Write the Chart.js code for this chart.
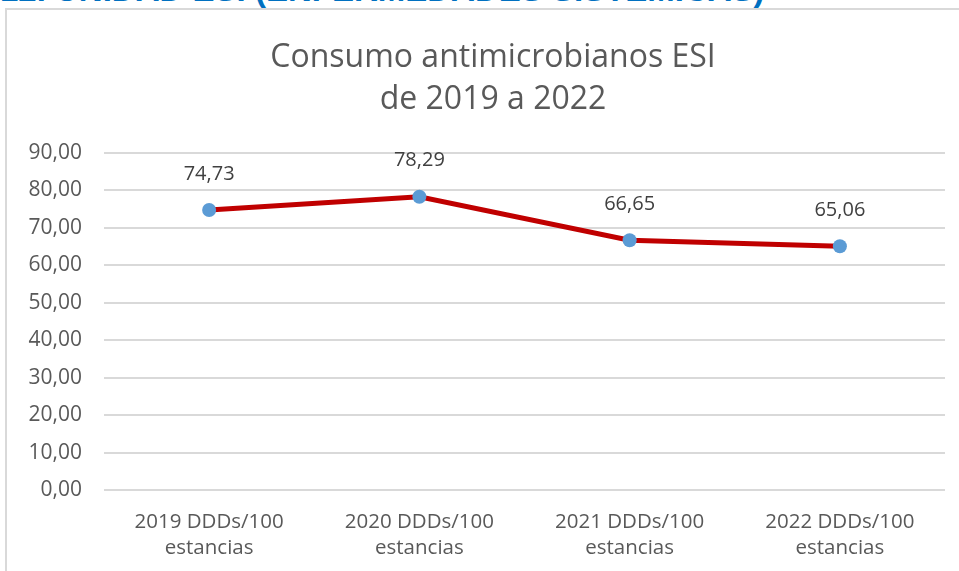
<!DOCTYPE html>
<html>
<head>
<meta charset="utf-8">
<script src="https://cdn.jsdelivr.net/npm/chart.js@4.4.0/dist/chart.umd.min.js"></script>
<style>
  body { margin: 0; background: #ffffff; overflow: hidden; width: 959px; height: 571px; position: relative; }
  #heading {
    position: absolute; left: 0px; top: -29px;
    font-family: "Liberation Sans", Arial, sans-serif; font-weight: bold;
    font-size: 33px; line-height: 38px; color: #0070C0; white-space: nowrap;
  }
  #box {
    position: absolute; left: 5px; top: 8px; width: 980px; height: 570px;
    border-left: 2px solid #d9d9d9; border-top: 2px solid #d9d9d9;
  }
  #wrap { position: absolute; left: 0; top: 0; width: 972px; height: 561px; }
</style>
</head>
<body>
<div id="heading">12. UNIDAD ESI (ENFERMEDADES SISTÉMICAS)</div>
<div id="box">
  <div id="wrap"><canvas id="esiChart"></canvas></div>
</div>
<script>
// chart data
const categories = [
    ['2019 DDDs/100', 'estancias'],
    ['2020 DDDs/100', 'estancias'],
    ['2021 DDDs/100', 'estancias'],
    ['2022 DDDs/100', 'estancias']
];
const consumo = [74.73, 78.29, 66.65, 65.06];
const yTicks = [0, 10, 20, 30, 40, 50, 60, 70, 80, 90];

const fontFamily = '"Open Sans", "Noto Sans", sans-serif';

function formatComma(v) {
    return v.toFixed(2).replace('.', ',');
}

// Draws the value above each point
const valueLabels = {
    id: 'valueLabels',
    afterDatasetsDraw(chart) {
        const ctx = chart.ctx;
        const meta = chart.getDatasetMeta(0);
        ctx.save();
        ctx.font = '20px ' + fontFamily;
        ctx.fillStyle = '#404040';
        ctx.textAlign = 'center';
        ctx.textBaseline = 'middle';
        meta.data.forEach((pt, i) => {
            ctx.fillText(formatComma(consumo[i]), pt.x, pt.y - 36);
        });
        ctx.restore();
    }
};

document.addEventListener('DOMContentLoaded', function () {
    const ctx = document.getElementById('esiChart').getContext('2d');

    new Chart(ctx, {
        type: 'line',
        data: {
            labels: categories,
            datasets: [{
                label: 'Consumo',
                data: consumo,
                borderColor: '#C00000',
                borderWidth: 5,
                pointRadius: 7,
                pointHoverRadius: 7,
                pointBackgroundColor: '#5B9BD5',
                pointBorderColor: '#5B9BD5',
                pointBorderWidth: 0,
                tension: 0
            }]
        },
        options: {
            responsive: true,
            maintainAspectRatio: false,
            animation: false,
            layout: { padding: 0 },
            plugins: {
                legend: { display: false },
                tooltip: { enabled: false },
                title: {
                    display: true,
                    text: ['Consumo antimicrobianos ESI', 'de 2019 a 2022'],
                    color: '#595959',
                    font: { family: fontFamily, size: 32, weight: 'normal', lineHeight: 1.31 },
                    padding: { top: 27, bottom: 32 }
                }
            },
            scales: {
                x: {
                    offset: true,
                    grid: { display: false, drawTicks: false },
                    border: { display: false },
                    ticks: {
                        color: '#595959',
                        font: { family: fontFamily, size: 20.5, lineHeight: 1.28 },
                        padding: 19,
                        maxRotation: 0
                    },
                    afterFit: function (scale) { scale.height = 81; }
                },
                y: {
                    min: 0,
                    max: 90,
                    afterBuildTicks: function (scale) {
                        scale.ticks = yTicks.map(v => ({ value: v }));
                    },
                    grid: { color: '#d9d9d9', lineWidth: 2, drawTicks: false },
                    border: { display: false },
                    ticks: {
                        color: '#595959',
                        font: { family: fontFamily, size: 21 },
                        padding: 22,
                        callback: function (value) { return formatComma(value); }
                    },
                    afterFit: function (scale) { scale.width = 97; }
                },
                // empty right-hand spacer so the plot keeps its right margin
                yRight: {
                    position: 'right',
                    min: 0,
                    max: 90,
                    grid: { display: false, drawTicks: false },
                    border: { display: false },
                    ticks: { display: false },
                    afterFit: function (scale) { scale.width = 34; }
                }
            }
        },
        plugins: [valueLabels]
    });
});
</script>
</body>
</html>
